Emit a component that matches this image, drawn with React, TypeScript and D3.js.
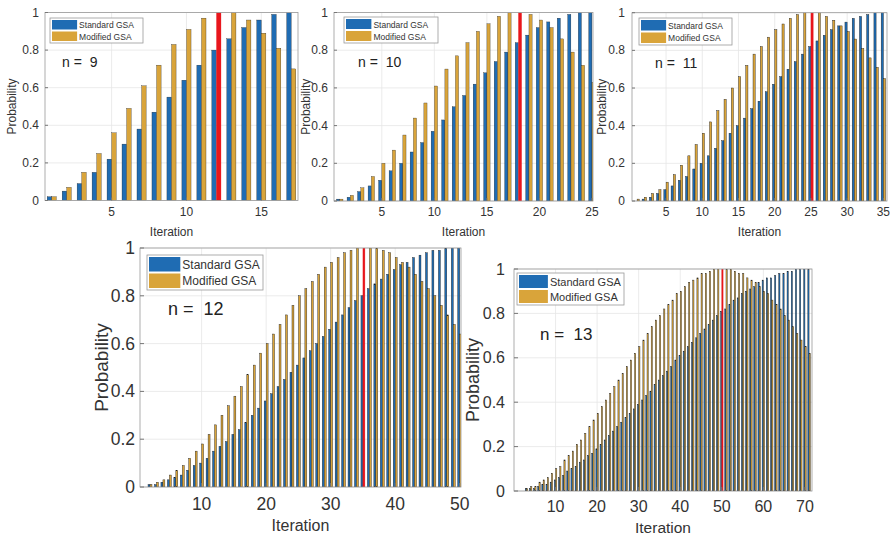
import React, { useEffect, useRef } from "react";
import * as d3 from "d3";

// probabilities (iteration k = index + 1)
const standard9 = [0.02, 0.05, 0.09, 0.15, 0.22, 0.3, 0.38, 0.47, 0.55, 0.64, 0.72, 0.8, 0.86, 0.92, 0.96, 0.99, 1.0];
const modified9 = [0.02, 0.07, 0.15, 0.25, 0.36, 0.49, 0.61, 0.72, 0.83, 0.91, 0.97, 1.0, 1.0, 0.96, 0.89, 0.81, 0.7];

const standard10 = [0.01, 0.02, 0.05, 0.08, 0.11, 0.16, 0.2, 0.26, 0.31, 0.37, 0.43, 0.5, 0.56, 0.62, 0.68, 0.74, 0.79, 0.84, 0.88, 0.92, 0.95, 0.97, 0.99, 1.0, 1.0];
const modified10 = [0.01, 0.03, 0.07, 0.13, 0.2, 0.27, 0.35, 0.44, 0.52, 0.61, 0.7, 0.77, 0.84, 0.9, 0.94, 0.98, 1.0, 1.0, 0.99, 0.96, 0.92, 0.86, 0.79, 0.72, 0.63];

const standard11 = [0.0, 0.01, 0.02, 0.04, 0.06, 0.08, 0.11, 0.13, 0.17, 0.2, 0.24, 0.28, 0.32, 0.36, 0.4, 0.44, 0.49, 0.53, 0.58, 0.62, 0.66, 0.7, 0.74, 0.78, 0.82, 0.85, 0.88, 0.91, 0.93, 0.95, 0.97, 0.98, 0.99, 1.0, 1.0];
const modified11 = [0.01, 0.02, 0.04, 0.06, 0.1, 0.14, 0.19, 0.24, 0.3, 0.36, 0.42, 0.48, 0.54, 0.6, 0.66, 0.72, 0.78, 0.82, 0.87, 0.91, 0.94, 0.97, 0.99, 1.0, 1.0, 1.0, 0.98, 0.96, 0.93, 0.9, 0.86, 0.81, 0.76, 0.71, 0.65];

const standard12 = [0.0, 0.01, 0.01, 0.02, 0.03, 0.04, 0.05, 0.07, 0.09, 0.1, 0.12, 0.15, 0.17, 0.19, 0.22, 0.24, 0.27, 0.3, 0.33, 0.36, 0.39, 0.42, 0.45, 0.48, 0.51, 0.54, 0.57, 0.6, 0.63, 0.66, 0.69, 0.72, 0.75, 0.78, 0.8, 0.83, 0.85, 0.87, 0.89, 0.91, 0.93, 0.94, 0.96, 0.97, 0.98, 0.99, 0.99, 1.0, 1.0, 1.0];
const modified12 = [0.0, 0.01, 0.02, 0.03, 0.05, 0.07, 0.09, 0.12, 0.15, 0.18, 0.22, 0.26, 0.3, 0.34, 0.38, 0.42, 0.47, 0.51, 0.56, 0.6, 0.64, 0.68, 0.72, 0.76, 0.8, 0.83, 0.86, 0.89, 0.92, 0.94, 0.96, 0.98, 0.99, 1.0, 1.0, 1.0, 1.0, 0.99, 0.98, 0.96, 0.94, 0.92, 0.89, 0.86, 0.83, 0.8, 0.76, 0.72, 0.68, 0.64];

const standard13 = [0.0, 0.0, 0.01, 0.01, 0.01, 0.02, 0.03, 0.03, 0.04, 0.05, 0.06, 0.07, 0.09, 0.1, 0.11, 0.13, 0.14, 0.16, 0.17, 0.19, 0.21, 0.23, 0.25, 0.27, 0.29, 0.31, 0.33, 0.35, 0.37, 0.39, 0.41, 0.43, 0.45, 0.48, 0.5, 0.52, 0.54, 0.56, 0.59, 0.61, 0.63, 0.65, 0.67, 0.69, 0.71, 0.73, 0.75, 0.77, 0.79, 0.81, 0.82, 0.84, 0.86, 0.87, 0.89, 0.9, 0.91, 0.92, 0.94, 0.95, 0.96, 0.96, 0.97, 0.98, 0.98, 0.99, 0.99, 1.0, 1.0, 1.0, 1.0];
const modified13 = [0.0, 0.0, 0.01, 0.02, 0.02, 0.04, 0.05, 0.06, 0.08, 0.1, 0.11, 0.14, 0.16, 0.18, 0.21, 0.23, 0.26, 0.29, 0.32, 0.35, 0.38, 0.41, 0.44, 0.47, 0.5, 0.53, 0.56, 0.59, 0.62, 0.65, 0.68, 0.71, 0.74, 0.77, 0.79, 0.82, 0.84, 0.86, 0.89, 0.9, 0.92, 0.94, 0.95, 0.96, 0.98, 0.98, 0.99, 1.0, 1.0, 1.0, 1.0, 1.0, 0.99, 0.98, 0.98, 0.96, 0.95, 0.94, 0.92, 0.9, 0.89, 0.86, 0.84, 0.82, 0.79, 0.77, 0.74, 0.71, 0.68, 0.65, 0.62];

const qubits = [9, 10, 11, 12, 13];
const bestIteration = [12, 18, 25, 35, 50];
const yTicks = [0, 0.2, 0.4, 0.6, 0.8, 1];
const yTickLabels = ["0", "0.2", "0.4", "0.6", "0.8", "1"];
const xTicks9 = [5, 10, 15];
const xTicks10 = [5, 10, 15, 20, 25];
const xTicks11 = [5, 10, 15, 20, 25, 30, 35];
const xTicks12 = [10, 20, 30, 40, 50];
const xTicks13 = [10, 20, 30, 40, 50, 60, 70];
const legendLabels = ["Standard GSA", "Modified GSA"];

const BLUE = "#1f6cb3";
const GOLD = "#d9a43a";
const RED = "#e8161c";
const FONT = "'Liberation Sans', Arial, Helvetica, sans-serif";

// layout of each sub-plot in the page
const layout = [
  { x0: 45, x1: 298, yb: 200.5, yt: 12.5, dom: [0.55, 17.45], tick: 12, lab: 12, xlabY: 232, ylabX: 12, gap: 6, leg: [50, 18, 93, 25], legFs: 8.5, nPos: [62, 62], nFs: 14, tl: 3 },
  { x0: 334, x1: 593, yb: 201, yt: 12.5, dom: [0.45, 25.1], tick: 12, lab: 12, xlabY: 232, ylabX: 306, gap: 6, leg: [344, 17, 94, 26], legFs: 8.5, nPos: [358, 62], nFs: 14, tl: 3 },
  { x0: 632, x1: 887, yb: 201, yt: 12.7, dom: [0.3, 35.5], tick: 12, lab: 12, xlabY: 232, ylabX: 602, gap: 7, leg: [639, 18, 93, 27], legFs: 8.5, nPos: [655, 63], nFs: 14, tl: 3 },
  { x0: 140, x1: 461, yb: 487, yt: 248, dom: [0.45, 50.2], tick: 17.5, lab: 19, xlab: 16, xlabY: 525, ylabX: 101, gap: 5, leg: [147, 255, 116, 35], legFs: 12, nPos: [168, 309], nFs: 18, tl: 4 },
  { x0: 514, x1: 812, yb: 491, yt: 269, dom: [0, 71.7], tick: 16, lab: 18, xlab: 15.5, xlabY: 527, ylabX: 473, gap: 9, leg: [517, 273, 107, 32], legFs: 11, nPos: [540, 334], nFs: 17, tl: 4 },
];

const series = [
  { std: standard9, mod: modified9, ticks: xTicks9 },
  { std: standard10, mod: modified10, ticks: xTicks10 },
  { std: standard11, mod: modified11, ticks: xTicks11 },
  { std: standard12, mod: modified12, ticks: xTicks12 },
  { std: standard13, mod: modified13, ticks: xTicks13 },
];

export default function App() {
  const ref = useRef<SVGSVGElement>(null);

  useEffect(() => {
    const svg = d3.select(ref.current);
    svg.selectAll("*").remove();

    series.forEach((s, i) => {
      const L = layout[i];
      const x = d3.scaleLinear().domain(L.dom).range([L.x0, L.x1]);
      const y = d3.scaleLinear().domain([0, 1]).range([L.yb, L.yt]);
      const g = svg.append("g");
      const clipId = "clip" + i;

      g.append("clipPath").attr("id", clipId)
        .append("rect")
        .attr("x", L.x0).attr("y", L.yt)
        .attr("width", L.x1 - L.x0).attr("height", L.yb - L.yt);

      // grid
      g.selectAll(".gx").data(s.ticks).enter().append("line")
        .attr("x1", d => x(d)).attr("x2", d => x(d))
        .attr("y1", L.yt).attr("y2", L.yb)
        .attr("stroke", "#e6e6e6").attr("stroke-width", 0.8);
      g.selectAll(".gy").data(yTicks).enter().append("line")
        .attr("x1", L.x0).attr("x2", L.x1)
        .attr("y1", d => y(d)).attr("y2", d => y(d))
        .attr("stroke", "#e6e6e6").attr("stroke-width", 0.8);

      // bars
      const unit = x(1) - x(0);
      const bw = 0.3 * unit;
      const off = 0.155 * unit;
      const stroke = unit > 9 ? 0.3 : 0.4;
      const bars = g.append("g").attr("clip-path", `url(#${clipId})`);
      bars.selectAll(".b").data(s.std).enter().append("rect")
        .attr("x", (d, k) => x(k + 1) - off - bw / 2)
        .attr("y", d => y(d))
        .attr("width", bw)
        .attr("height", d => L.yb - y(d))
        .attr("fill", BLUE)
        .attr("stroke", "#1b1b1b").attr("stroke-width", stroke);
      bars.selectAll(".m").data(s.mod).enter().append("rect")
        .attr("x", (d, k) => x(k + 1) + off - bw / 2)
        .attr("y", d => y(d))
        .attr("width", bw)
        .attr("height", d => L.yb - y(d))
        .attr("fill", (d, k) => (k + 1 === bestIteration[i] ? RED : GOLD))
        .attr("stroke", (d, k) => (k + 1 === bestIteration[i] ? RED : "#1b1b1b"))
        .attr("stroke-width", stroke);

      // box and ticks
      g.append("rect")
        .attr("x", L.x0).attr("y", L.yt)
        .attr("width", L.x1 - L.x0).attr("height", L.yb - L.yt)
        .attr("fill", "none").attr("stroke", "#9a9a9a").attr("stroke-width", 0.8);
      g.selectAll(".tx").data(s.ticks).enter().append("line")
        .attr("x1", d => x(d)).attr("x2", d => x(d))
        .attr("y1", L.yb).attr("y2", L.yb - L.tl)
        .attr("stroke", "#777");
      g.selectAll(".ty").data(yTicks).enter().append("line")
        .attr("x1", L.x0).attr("x2", L.x0 + L.tl)
        .attr("y1", d => y(d)).attr("y2", d => y(d))
        .attr("stroke", "#777");

      // tick labels
      g.selectAll(".lx").data(s.ticks).enter().append("text")
        .attr("x", d => x(d)).attr("y", L.yb + L.tick * 0.95)
        .attr("text-anchor", "middle").attr("dominant-baseline", "central")
        .attr("font-family", FONT).attr("font-size", L.tick).attr("fill", "#333")
        .text(d => String(d));
      g.selectAll(".ly").data(yTicks).enter().append("text")
        .attr("x", L.x0 - L.gap).attr("y", d => y(d))
        .attr("text-anchor", "end").attr("dominant-baseline", "central")
        .attr("font-family", FONT).attr("font-size", L.tick).attr("fill", "#333")
        .text((d, k) => yTickLabels[k]);

      // axis titles
      g.append("text")
        .attr("x", (L.x0 + L.x1) / 2).attr("y", L.xlabY)
        .attr("text-anchor", "middle").attr("dominant-baseline", "central")
        .attr("font-family", FONT).attr("font-size", L.xlab || L.lab).attr("fill", "#333")
        .text("Iteration");
      g.append("text")
        .attr("transform", `translate(${L.ylabX},${(L.yt + L.yb) / 2}) rotate(-90)`)
        .attr("text-anchor", "middle").attr("dominant-baseline", "central")
        .attr("font-family", FONT).attr("font-size", L.lab).attr("fill", "#333")
        .text("Probability");

      // legend
      const [lx, ly, lw, lh] = L.leg;
      const lg = g.append("g");
      lg.append("rect")
        .attr("x", lx).attr("y", ly).attr("width", lw).attr("height", lh)
        .attr("fill", "white").attr("stroke", "#9a9a9a").attr("stroke-width", 0.8);
      const rowH = lh / 2;
      const sw = lw * 0.27;
      [BLUE, GOLD].forEach((c, r) => {
        lg.append("rect")
          .attr("x", lx + 2).attr("y", ly + 2 + r * (rowH - 1))
          .attr("width", sw).attr("height", rowH - 3)
          .attr("fill", c);
        lg.append("text")
          .attr("x", lx + 4 + sw).attr("y", ly + 1 + r * (rowH - 1) + rowH / 2)
          .attr("dominant-baseline", "central")
          .attr("font-family", FONT).attr("font-size", L.legFs).attr("fill", "#333")
          .text(legendLabels[r]);
      });

      // n label
      g.append("text")
        .attr("x", L.nPos[0]).attr("y", L.nPos[1])
        .attr("dominant-baseline", "central")
        .attr("font-family", FONT).attr("font-size", L.nFs).attr("fill", "#222")
        .attr("xml:space", "preserve")
        .style("white-space", "pre")
        .text("n =  " + qubits[i]);
    });
  }, []);

  return (
    <svg
      ref={ref}
      width={891}
      height={535}
      style={{ position: "absolute", left: 0, top: 0, background: "white" }}
    />
  );
}
